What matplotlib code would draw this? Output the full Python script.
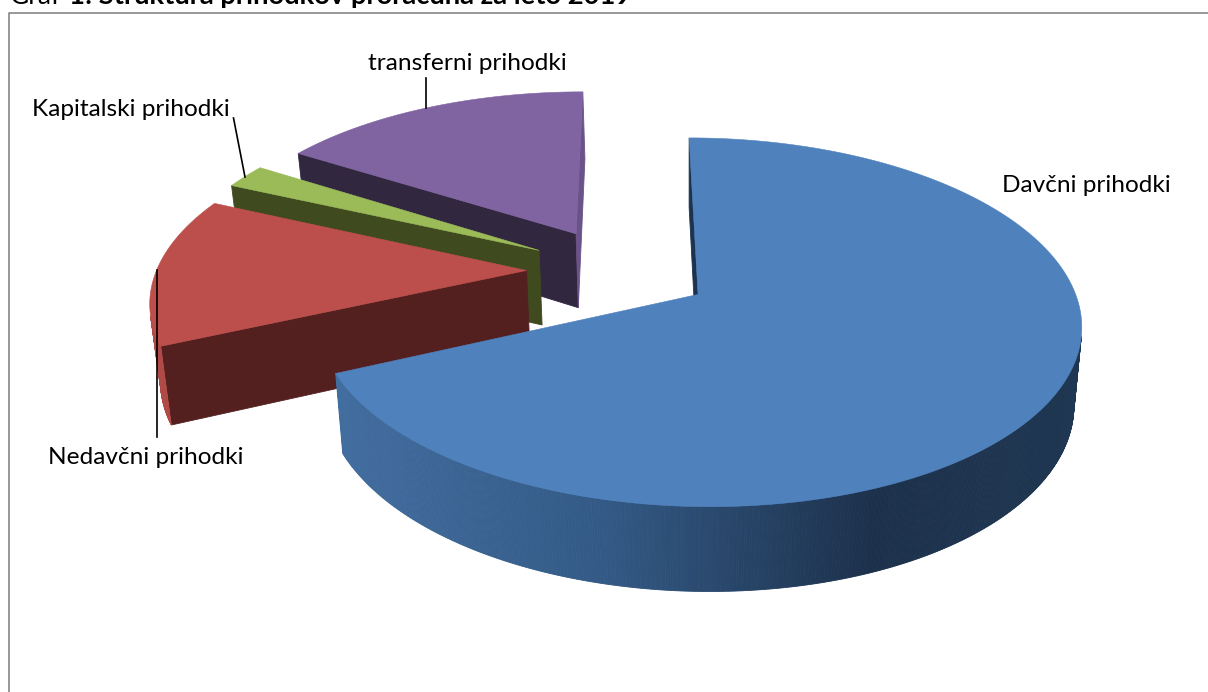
from math import *
import matplotlib
matplotlib.use("Agg")
import matplotlib.pyplot as plt
from matplotlib.colors import LinearSegmentedColormap

# delezi prihodkov (%), od 12h v smeri urinega kazalca
labels = ["Davčni prihodki", "Nedavčni prihodki", "Kapitalski prihodki", "transferni prihodki"]
shares = [68.25, 13.5, 2.2, 16.05]

top_colors = ["#4f81bd", "#bc4f4b", "#9bbb59", "#8064a2"]
side_colors = ["#1c3350", "#54201f", "#3f4a1f", "#31273f"]
right_colors = ["#1c3350", "#54201f", "#3f4a1f", "#6a5388"]
rim_colors = ["#3a6294", "#b04a47", "#7f9a48", "#6a5388"]

# projekcija pogace
R = 370
Rv = 173
k = 0.148
m = 0.02
H = 77
xc = 619
xv = 630
yc = 270.5
xw = 688
explode = 0.25

blue_rim = LinearSegmentedColormap.from_list("rim", [(0, "#426d9f"), (0.35, "#335a86"), (0.72, "#1c304b"), (1, "#1f3752")])


def project(X, Y, low=False):
    q = 1 + k * Y
    if not low:
        return xv + (xc - xv + R * X) / q, yc - Rv * Y / q
    x = xv + (xc - xv + R * X) / q
    return x - m * (x - xw), yc - (Rv * Y - H) / (q + m)


def area(pts):
    s = 0
    for i in range(len(pts)):
        x1, y1 = pts[i]
        x2, y2 = pts[(i + 1) % len(pts)]
        s += x1 * y2 - x2 * y1
    return s


def wall(ax, a, b, low_a, low_b, color):
    pts = [a, b, low_b, low_a]
    if area(pts) < 0:
        ax.fill([p[0] for p in pts], [p[1] for p in pts], color=color, lw=0.6, zorder=2)


fig = plt.figure(figsize=(12.08, 6.92), dpi=100)
ax = fig.add_axes([0, 0, 1, 1])
ax.set_xlim(0, 1208)
ax.set_ylim(692, 0)
ax.axis("off")
plt.rcParams["font.family"] = ["Lato", "DejaVu Sans"]

# okvir grafa
ax.plot([8.5, 8.5, 1208], [692, 13, 13], color="#868686", lw=1.2, zorder=1)

# najprej zadnji kosi, nazadnje modri
starts = []
s = 0
for v in shares:
    starts.append(s)
    s += v * 3.6
for i in [3, 2, 1, 0]:
    t0 = starts[i]
    t1 = t0 + shares[i] * 3.6
    mid = radians((t0 + t1) / 2)
    ox = explode * sin(mid)
    oy = explode * cos(mid)
    n = int((t1 - t0) * 3) + 2
    ang = [radians(t0 + (t1 - t0) * j / n) for j in range(n + 1)]
    up = [project(ox + sin(a), oy + cos(a)) for a in ang]
    low = [project(ox + sin(a), oy + cos(a), True) for a in ang]
    apex = project(ox, oy)
    apex_low = project(ox, oy, True)
    # stranski steni
    wall(ax, apex, up[0], apex_low, low[0], side_colors[i])
    wall(ax, up[-1], apex, low[-1], apex_low, right_colors[i])
    # zunanji rob
    for j in range(n):
        c = rim_colors[i]
        if i == 0:
            c = blue_rim(min(max(((up[j][0] + up[j + 1][0]) / 2 - 338) / 745, 0), 1))
        wall(ax, up[j], up[j + 1], low[j], low[j + 1], c)
    ax.fill([apex[0]] + [p[0] for p in up], [apex[1]] + [p[1] for p in up], color=top_colors[i], lw=0.4, zorder=2)

# crte do oznak
ax.plot([426, 426], [78, 108], color="black", lw=1.2, zorder=3)
ax.plot([233.5, 245], [118, 177], color="black", lw=1.2, zorder=3)
ax.plot([157, 157], [270, 437], color="black", lw=1.2, zorder=3)

# oznake
fs = 17.6
ax.text(1086, 186, labels[0], fontsize=fs, ha="center", va="center", color="black", zorder=4)
ax.text(145.5, 457, labels[1], fontsize=fs, ha="center", va="center", color="black", zorder=4)
ax.text(130.5, 110, labels[2], fontsize=fs, ha="center", va="center", color="black", zorder=4)
ax.text(467, 64, labels[3], fontsize=fs, ha="center", va="center", color="black", zorder=4)

# naslov je na vrhu odrezan
ax.text(10, 4, "Graf", fontsize=19, ha="left", va="baseline", color="black", clip_on=False)
ax.text(69, 4, "1: Struktura prihodkov proračuna za leto 2019", fontsize=19.75, fontweight="bold", ha="left", va="baseline", color="black", clip_on=False)

fig.savefig("out.png", dpi=100)
